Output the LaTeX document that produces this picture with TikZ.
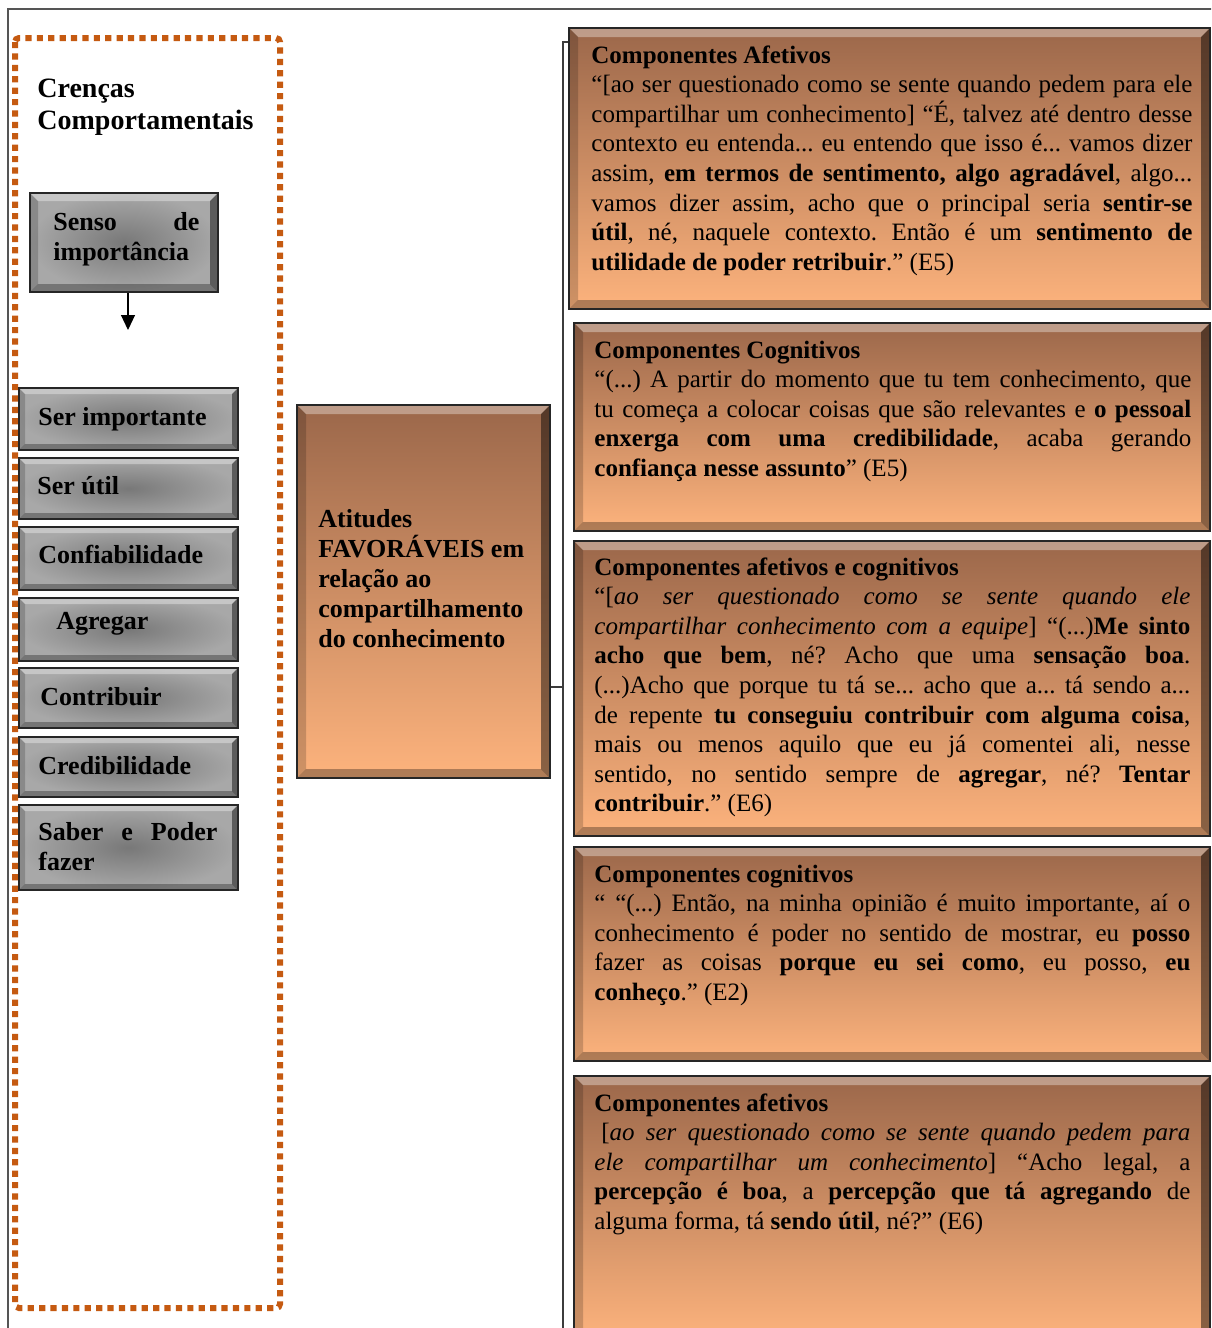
\documentclass[tikz,border=0pt]{standalone}
\usepackage{fontspec}
\setmainfont{Liberation Serif}
\usetikzlibrary{arrows.meta,fit}
\frenchspacing

\definecolor{framegray}{RGB}{85,85,85}
\definecolor{linegray}{RGB}{60,60,60}
\definecolor{dotorange}{RGB}{197,90,17}
\definecolor{ortop}{RGB}{155,103,74}
\definecolor{orbot}{RGB}{253,179,125}
\definecolor{grayin}{RGB}{120,120,120}
\definecolor{grayout}{RGB}{168,168,168}

% body text of the quotation boxes
\newcommand\quotetext[2]{\parbox[t]{#1}{\fontsize{12.5}{14.8}\selectfont
  \frenchspacing\hyphenpenalty=10000 \exhyphenpenalty=10000 #2}}

\tikzset{
  bevel/.style={path picture={
    \coordinate (bvA) at (path picture bounding box.north west);
    \coordinate (bvB) at (path picture bounding box.north east);
    \coordinate (bvC) at (path picture bounding box.south east);
    \coordinate (bvD) at (path picture bounding box.south west);
    \fill[white,fill opacity=0.35] (bvA) -- (bvB) -- ([shift={(-#1,-#1)}]bvB)
      -- ([shift={(#1,-#1)}]bvA) -- cycle;
    \fill[black,fill opacity=0.18] (bvA) -- ([shift={(#1,-#1)}]bvA)
      -- ([shift={(#1,#1)}]bvD) -- (bvD) -- cycle;
    \fill[black,fill opacity=0.45] (bvB) -- ([shift={(-#1,-#1)}]bvB)
      -- ([shift={(-#1,#1)}]bvC) -- (bvC) -- cycle;
    \fill[black,fill opacity=0.30] (bvD) -- ([shift={(#1,#1)}]bvD)
      -- ([shift={(-#1,#1)}]bvC) -- (bvC) -- cycle;
  }},
  graybox/.style={draw=black!85, line width=1pt, inner sep=0pt,
    inner color=grayin, outer color=grayout, bevel=3pt},
  orangebox/.style={draw=black!85, line width=1.2pt, inner sep=0pt,
    top color=ortop, bottom color=orbot, bevel=4.5pt},
  gtxt/.style={inner sep=0pt, anchor=base west,
    font=\fontsize{13}{15}\selectfont\bfseries},
  qtxt/.style={inner sep=0pt, anchor=base west},
  conn/.style={draw=linegray, line width=0.6pt},
}

\begin{document}
\begin{tikzpicture}[x=0.5pt,y=-0.5pt]
\useasboundingbox (0,0) rectangle (1211,1328);
\clip (0,0) rectangle (1211,1328);
\fill[white] (0,0) rectangle (1211,1328);

% outer frame
\draw[framegray, line width=0.6pt] (8,9) rectangle (1240,1360);

% dotted frame around the behavioural beliefs
\draw[dotorange, line width=3pt, dash pattern=on 3.1pt off 2.6pt,
  rounded corners=2pt] (15,38) rectangle (280,1308);

\node[gtxt, font=\fontsize{14}{16}\selectfont\bfseries] (crencas) at (37,97)
  {\parbox[t]{120pt}{Crenças\\Comportamentais}};

% belief boxes
\node[graybox, bevel=4pt, fit={(30,193) (218,292)}] (senso) {};
\node[gtxt] (sensot) at (53,230)
  {\parbox[t]{73pt}{Senso\hfill de\\importância}};
\coordinate (arrowend) at (128,330);
\draw[-{Triangle[width=7pt,length=7.5pt]}, line width=0.6pt]
  (senso.south -| arrowend) -- (arrowend);

\node[graybox, fit={(19,388) (238,450)}] (g1) {};
\node[gtxt] (g1t) at (38,425) {Ser importante};
\node[graybox, fit={(19,458) (238,519)}] (g2) {};
\node[gtxt] (g2t) at (37,494) {Ser útil};
\node[graybox, fit={(19,527) (238,590)}] (g3) {};
\node[gtxt] (g3t) at (38,563) {Confiabilidade};
\node[graybox, fit={(19,598) (238,661)}] (g4) {};
\node[gtxt] (g4t) at (56,629) {Agregar};
\node[graybox, fit={(19,668) (238,728)}] (g5) {};
\node[gtxt] (g5t) at (40,705) {Contribuir};
\node[graybox, fit={(19,737) (238,797)}] (g6) {};
\node[gtxt] (g6t) at (38,774) {Credibilidade};
\node[graybox, fit={(19,805) (238,890)}] (g7) {};
\node[gtxt] (g7t) at (38,840)
  {\parbox[t]{89.5pt}{Saber\hfill e\hfill Poder\\fazer}};

% central box
\node[orangebox, fit={(297,405) (550,778)}] (atit) {};
\node[gtxt] (atitt) at (318,527)
  {\parbox[t]{120pt}{\raggedright Atitudes\\FAVORÁVEIS em\\relação ao\\
    compartilhamento\\do conhecimento}};

% quotation boxes
\node[orangebox, fit={(569,28) (1210,309)}] (q1) {};
\node[orangebox, fit={(574,323) (1210,531)}] (q2) {};
\node[orangebox, fit={(574,541) (1210,836)}] (q3) {};
\node[orangebox, fit={(574,847) (1210,1061)}] (q4) {};
\node[orangebox, fit={(574,1076) (1210,1340)}] (q5) {};

% bracket joining the central box to the quotations
\coordinate (brtop) at (563,42);
\coordinate (brjoin) at (563,687);
\coordinate (brbot) at (563,1340);
\draw[conn] (q1.west |- brtop) -- (brtop) -- (brbot);
\draw[conn] (atit.east |- brjoin) -- (brjoin);

\node[qtxt] (q1t) at (591,63) {\quotetext{300.5pt}{%
\textbf{Componentes Afetivos}\\
“[ao ser questionado como se sente quando pedem para ele\linebreak
compartilhar um conhecimento] “É, talvez até dentro desse\linebreak
contexto eu entenda... eu entendo que isso é... vamos dizer\linebreak
assim, \textbf{em termos de sentimento, algo agradável}, algo...\linebreak
vamos dizer assim, acho que o principal seria \textbf{sentir-se}\linebreak
\textbf{útil}, né, naquele contexto. Então é um \textbf{sentimento de}\linebreak
\textbf{utilidade de poder retribuir}.” (E5)}};

\node[qtxt] (q2t) at (594,358) {\quotetext{298.5pt}{%
\textbf{Componentes Cognitivos}\\
“(...) A partir do momento que tu tem conhecimento, que\linebreak
tu começa a colocar coisas que são relevantes e \textbf{o pessoal}\linebreak
\textbf{enxerga com uma credibilidade}, acaba gerando\linebreak
\textbf{confiança nesse assunto}” (E5)}};

\node[qtxt] (q3t) at (594,575) {\quotetext{298pt}{%
\textbf{Componentes afetivos e cognitivos}\\
“[\textit{ao ser questionado como se sente quando ele}\linebreak
\textit{compartilhar conhecimento com a equipe}] “(...)\textbf{Me sinto}\linebreak
\textbf{acho que bem}, né? Acho que uma \textbf{sensação boa}.\linebreak
(...)Acho que porque tu tá se... acho que a... tá sendo a...\linebreak
de repente \textbf{tu conseguiu contribuir com alguma coisa},\linebreak
mais ou menos aquilo que eu já comentei ali, nesse\linebreak
sentido, no sentido sempre de \textbf{agregar}, né? \textbf{Tentar}\linebreak
\textbf{contribuir}.” (E6)}};

\node[qtxt] (q4t) at (594,882) {\quotetext{298pt}{%
\textbf{Componentes cognitivos}\\
“ “(...) Então, na minha opinião é muito importante, aí o\linebreak
conhecimento é poder no sentido de mostrar, eu \textbf{posso}\linebreak
fazer as coisas \textbf{porque eu sei como}, eu posso, \textbf{eu}\linebreak
\textbf{conheço}.” (E2)}};

\node[qtxt] (q5t) at (594,1111) {\quotetext{298pt}{%
\textbf{Componentes afetivos}\\
\hspace*{3.5pt}[\textit{ao ser questionado como se sente quando pedem para}\linebreak
\textit{ele compartilhar um conhecimento}] “Acho legal, a\linebreak
\textbf{percepção é boa}, a \textbf{percepção que tá agregando} de\linebreak
alguma forma, tá \textbf{sendo útil}, né?” (E6)}};
\end{tikzpicture}
\end{document}
